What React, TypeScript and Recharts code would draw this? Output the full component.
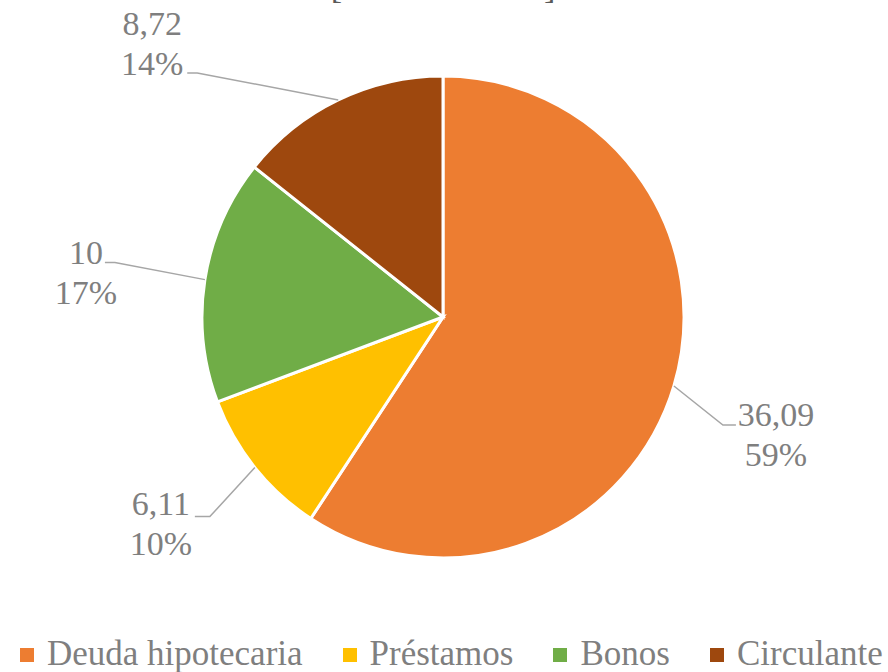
import { PieChart, Pie, Cell, Legend } from 'recharts';

// ─── Data ─────────────────────────────────────────────────────────────────────

const categories = ['Deuda hipotecaria', 'Préstamos', 'Bonos', 'Circulante'];
const values = [36.09, 6.11, 10, 8.72];
const valueLabels = ['36,09', '6,11', '10', '8,72'];
const percentLabels = ['59%', '10%', '17%', '14%'];
const colors = ['#ED7D31', '#FFC000', '#70AD47', '#9E480E'];

const chartTitle = '[CELLRANGE]';

// ─── Layout ───────────────────────────────────────────────────────────────────

const FONT = '"Liberation Serif", serif';
const TEXT = '#7F7F7F';
const LEADER = '#A6A6A6';

// label offsets relative to the slice's outer mid point (Excel moved these by hand)
const labelLayout = [
  { elbow: [49, 39], end: [62, 39], text: [102, 40] },
  { elbow: [-45, 49], end: [-60, 49], text: [-94, 47] },
  { elbow: [-90, -17], end: [-100, -17], text: [-119, -16] },
  { elbow: [-141, -27], end: [-151, -27], text: [-186, -65] },
];

const RADIAN = Math.PI / 180;

const data = categories.map((name, i) => ({ name, value: values[i] }));

// ─── Labels ───────────────────────────────────────────────────────────────────

function SliceLabel(props: any) {
  const { cx, cy, midAngle, outerRadius, index } = props;
  const ex = cx + outerRadius * Math.cos(-midAngle * RADIAN);
  const ey = cy + outerRadius * Math.sin(-midAngle * RADIAN);
  const l = labelLayout[index];
  const tx = ex + l.text[0];
  const ty = ey + l.text[1];
  return (
    <g>
      <polyline
        points={`${ex},${ey} ${ex + l.elbow[0]},${ey + l.elbow[1]} ${ex + l.end[0]},${ey + l.end[1]}`}
        fill="none"
        stroke={LEADER}
        strokeWidth={1.5}
      />
      <text x={tx} y={ty} textAnchor="middle" fill={TEXT} style={{ fontFamily: FONT }} fontSize={34}>
        <tspan x={tx} y={ty}>{valueLabels[index]}</tspan>
        <tspan x={tx} y={ty + 40}>{percentLabels[index]}</tspan>
      </text>
    </g>
  );
}

// ─── Legend ───────────────────────────────────────────────────────────────────

function LegendRow() {
  return (
    <div
      style={{
        display: 'flex',
        alignItems: 'center',
        gap: 40,
        paddingLeft: 20,
        whiteSpace: 'nowrap',
        fontFamily: FONT,
        fontSize: 35,
        lineHeight: '34px',
        color: TEXT,
      }}
    >
      {categories.map((c, i) => (
        <div key={c} style={{ display: 'flex', alignItems: 'center', flex: 'none' }}>
          <span style={{ width: 14, height: 14, background: colors[i], marginRight: 13, marginTop: 2, flex: 'none' }} />
          <span>{c}</span>
        </div>
      ))}
    </div>
  );
}

export default function App() {
  return (
    <div style={{ width: 888, height: 672, background: '#fff', position: 'relative', fontFamily: FONT }}>
      <style>{'body{margin:0}'}</style>
      <PieChart width={888} height={672} margin={{ top: 0, right: 0, bottom: 0, left: 0 }} style={{ fontFamily: FONT }}>
        <text x={443} y={-2} textAnchor="middle" fill="#595959" style={{ fontFamily: FONT }} fontSize={34}>
          {chartTitle}
        </text>
        <Pie
          data={data}
          dataKey="value"
          nameKey="name"
          cx={443}
          cy={317}
          outerRadius={241}
          startAngle={90}
          endAngle={-270}
          stroke="#fff"
          strokeWidth={3}
          label={SliceLabel}
          labelLine={false}
          isAnimationActive={false}
        >
          {data.map((d, i) => (
            <Cell key={d.name} fill={colors[i]} />
          ))}
        </Pie>
        <Legend
          verticalAlign="bottom"
          wrapperStyle={{ top: 637, left: 0, width: 888, bottom: 'auto' }}
          content={() => <LegendRow />}
        />
      </PieChart>
    </div>
  );
}
